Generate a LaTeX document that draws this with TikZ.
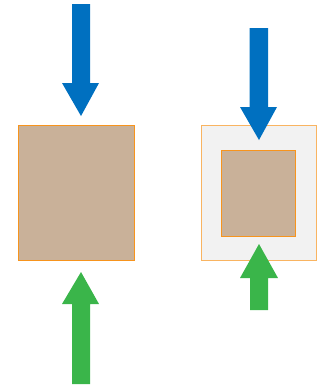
\documentclass[tikz,border=0pt]{standalone}
\definecolor{arrblue}{HTML}{0070C0}
\definecolor{arrgreen}{HTML}{3AB54A}
\definecolor{brownfill}{HTML}{C9B199}
\definecolor{boxorange}{HTML}{F7941D}
\definecolor{greyfill}{HTML}{F2F2F2}
\begin{document}
\begin{tikzpicture}[x=1pt,y=-1pt,
  blockbox/.style={draw=boxorange,line width=1pt,fill=brownfill},
  outerbox/.style={draw=boxorange!70,line width=1pt,fill=greyfill},
  downarrow/.style={fill=arrblue,draw=none},
  uparrow/.style={fill=arrgreen,draw=none}]
\useasboundingbox (0,0) rectangle (325,389);
% left
\fill[downarrow] (72,4) -- (90,4) -- (90,83) -- (99,83) -- (81,116) -- (62,83) -- (72,83) -- cycle;
\draw[blockbox] (18,125) rectangle (134,260);
\fill[uparrow] (72,384) -- (90,384) -- (90,304) -- (99,304) -- (81,272) -- (62,304) -- (72,304) -- cycle;
% right
\draw[outerbox] (201,125) rectangle (316.5,260);
\draw[blockbox] (221,150) rectangle (295.5,236);
\fill[downarrow] (249.5,28) -- (268,28) -- (268,107) -- (277,107) -- (259,140) -- (240,107) -- (249.5,107) -- cycle;
\fill[uparrow] (250,310) -- (268,310) -- (268,278) -- (278,278) -- (259,244) -- (240,278) -- (250,278) -- cycle;
\end{tikzpicture}
\end{document}
